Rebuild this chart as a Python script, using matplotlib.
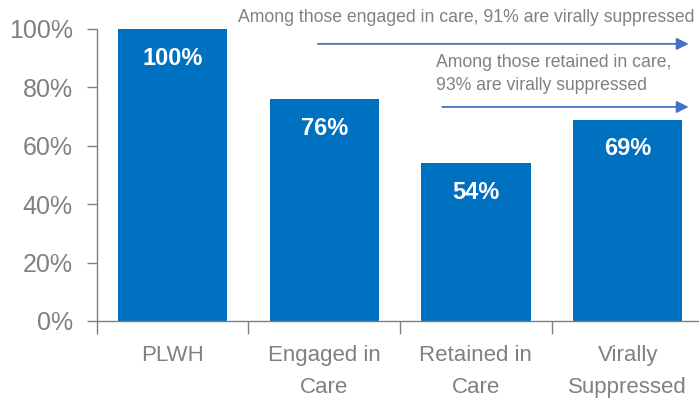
import matplotlib.pyplot as plt

categories = ["PLWH", "Engaged in\nCare", "Retained in\nCare", "Virally\nSuppressed"]
values = [100, 76, 54, 69]
note_engaged = "Among those engaged in care, 91% are virally suppressed"
note_retained = "Among those retained in care,\n93% are virally suppressed"

BLUE = "#0070C0"
ARROW = "#4472C4"
GREY = "#808080"

plt.rcParams["font.family"] = ["Liberation Sans", "DejaVu Sans"]

fig = plt.figure(figsize=(6.99, 4.04), dpi=100)
ax = fig.add_axes([96.5 / 699, 83 / 404, (699 - 96.5) / 699, 292 / 404])

x = list(range(len(categories)))
ax.bar(x, values, width=0.72, color=BLUE, zorder=2)
for xi, v in zip(x, values):
    ax.text(xi, v - 10, f"{v}%", ha="center", va="center", color="white",
            fontsize=17, fontweight="bold")

ax.set_xlim(-0.5, 3.47)
ax.set_ylim(0, 100)
ax.set_yticks(range(0, 101, 20))
ax.set_yticklabels([f"{t}%" for t in range(0, 101, 20)])
ax.tick_params(axis="y", colors=GREY, labelsize=18, length=7, width=1, pad=10)

ax.set_xticks(x)
ax.set_xticklabels(categories, linespacing=1.7)
ax.set_xticks([i - 0.5 for i in x], minor=True)
ax.tick_params(axis="x", which="major", length=0, colors=GREY, labelsize=16, pad=17)
ax.tick_params(axis="x", which="minor", length=9, width=1, color=GREY)

for side in ["top", "right"]:
    ax.spines[side].set_visible(False)
for side in ["left", "bottom"]:
    ax.spines[side].set_color(GREY)
    ax.spines[side].set_linewidth(1)

# annotations with arrows
ax.text(0.43, 103.8, note_engaged, ha="left", va="center", color=GREY,
        fontsize=12.7, clip_on=False)
ax.annotate("", xy=(3.42, 94.9), xytext=(0.94, 94.9),
            arrowprops=dict(arrowstyle="-|>", color=ARROW, lw=1.3, mutation_scale=18),
            annotation_clip=False)
ax.text(1.74, 84.6, note_retained, ha="left", va="center", color=GREY,
        fontsize=12.7, linespacing=1.5, clip_on=False)
ax.annotate("", xy=(3.42, 73.3), xytext=(1.76, 73.3),
            arrowprops=dict(arrowstyle="-|>", color=ARROW, lw=1.3, mutation_scale=18),
            annotation_clip=False)

fig.savefig("out.png", dpi=100)
